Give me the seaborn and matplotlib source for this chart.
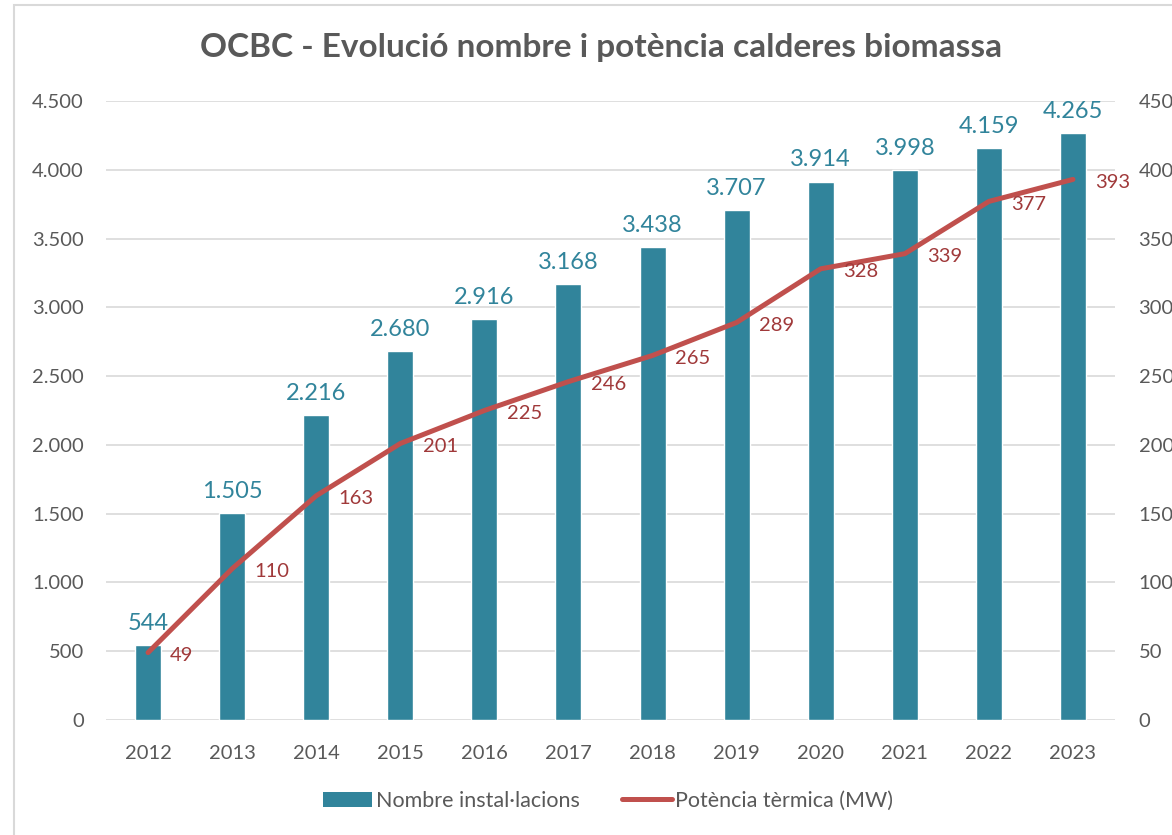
import numpy as np
import pandas as pd
import matplotlib
matplotlib.use('Agg')
import matplotlib.pyplot as plt
import seaborn as sns
from matplotlib.patches import Rectangle
from matplotlib.lines import Line2D
from matplotlib.patches import Patch
from matplotlib.ticker import FuncFormatter, MultipleLocator

# Data
years = ['2012', '2013', '2014', '2015', '2016', '2017',
         '2018', '2019', '2020', '2021', '2022', '2023']
installations = [544, 1505, 2216, 2680, 2916, 3168, 3438, 3707, 3914, 3998, 4159, 4265]
power_mw = [49, 110, 163, 201, 225, 246, 265, 289, 328, 339, 377, 393]

bar_color = '#31849B'
line_color = '#C0504D'
line_label_color = '#A0393A'
text_gray = '#595959'
grid_gray = '#D9D9D9'

sns.set_style('white')
plt.rcParams['font.family'] = ['Lato', 'DejaVu Sans']

df = pd.DataFrame({'year': years, 'n': installations, 'mw': power_mw})

fig = plt.figure(figsize=(11.72, 8.35), dpi=100, facecolor='white')
ax = fig.add_axes([106 / 1172, 1 - 720 / 835, (1115 - 106) / 1172, (720 - 101) / 835])

sns.barplot(data=df, x='year', y='n', color=bar_color, width=0.31, saturation=1, ax=ax, zorder=2)
ax.set_ylim(0, 4500)
ax.set_xlim(-0.5, len(years) - 0.5)
ax.yaxis.set_major_locator(MultipleLocator(500))
ax.yaxis.set_major_formatter(FuncFormatter(lambda v, p: f'{int(v):,}'.replace(',', '.')))
ax.grid(axis='y', color=grid_gray, lw=1.2, zorder=0)
ax.set_axisbelow(True)
ax.set_xlabel('')
ax.set_ylabel('')
for s in ax.spines.values():
    s.set_visible(False)
ax.tick_params(axis='y', length=0, pad=16, labelsize=14.5, labelcolor=text_gray)
ax.tick_params(axis='x', length=0, pad=18, labelsize=14.5, labelcolor=text_gray)

for i, v in enumerate(installations):
    ax.annotate(f'{v:,}'.replace(',', '.'), xy=(i, v), xytext=(0, 8), textcoords='offset points',
                ha='center', va='bottom', fontsize=17, color=bar_color)

ax2 = ax.twinx()
sns.lineplot(data=df, x='year', y='mw', color=line_color, lw=3.6, ax=ax2, sort=False,
             solid_capstyle='round', zorder=3)
ax2.set_ylim(0, 450)
ax2.yaxis.set_major_locator(MultipleLocator(50))
ax2.set_ylabel('')
for s in ax2.spines.values():
    s.set_visible(False)
ax2.tick_params(axis='y', length=0, pad=17, labelsize=14.5, labelcolor=text_gray)

for i, v in enumerate(power_mw):
    ax2.annotate(str(v), xy=(i, v), xytext=(16, -2), textcoords='offset points',
                 ha='left', va='center', fontsize=14.5, color=line_label_color)

fig.text(601 / 1172, 1 - 47 / 835, 'OCBC - Evolució nombre i potència calderes biomassa',
         ha='center', va='center', fontsize=24, fontweight='bold', color=text_gray)

handles = [Patch(facecolor=bar_color, edgecolor='none'),
           Line2D([0], [0], color=line_color, lw=3.6, solid_capstyle='round')]
fig.legend(handles, ['Nombre instal·lacions', 'Potència tèrmica (MW)'],
           loc='center', bbox_to_anchor=(608 / 1172, 1 - 801 / 835), ncol=2, frameon=False,
           fontsize=15.5, labelcolor=text_gray, handlelength=2.3, handletextpad=0.15,
           columnspacing=2.0, handleheight=0.75)

fig.patches.append(Rectangle((14 / 1172, -0.01), 1.1, 1 - 5 / 835 + 0.01, transform=fig.transFigure,
                             fill=False, edgecolor=grid_gray, lw=1.5, zorder=0))

fig.savefig('out.png', dpi=100, facecolor='white')
